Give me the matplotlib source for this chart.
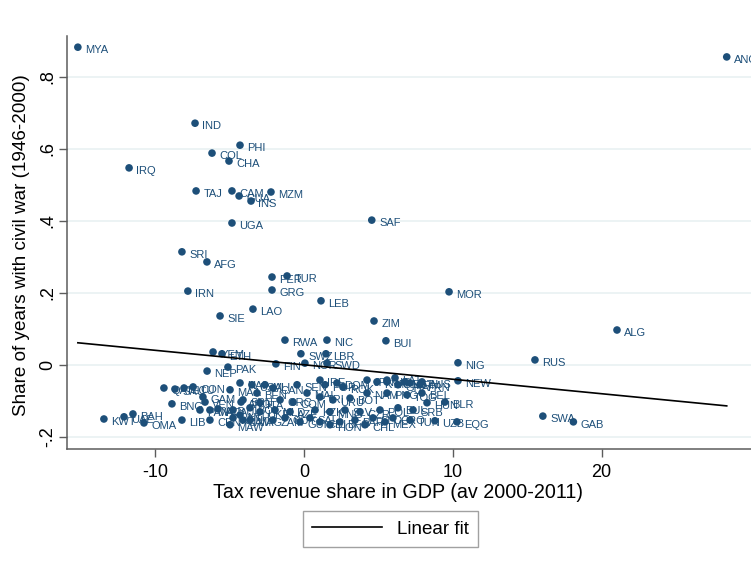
import numpy as np
import matplotlib
matplotlib.use("Agg")
import matplotlib.pyplot as plt
from matplotlib.lines import Line2D

plt.rcParams['font.family'] = ['Liberation Sans', 'DejaVu Sans']

# Country codes, tax revenue share (x) and share of years with civil war (y)
codes = [
    "MYA", "ANG", "IND", "PHI", "COL", "CHA", "IRQ", "TAJ", "CAM", "GUA",
    "MZM", "INS", "UGA", "SAF", "SRI", "AFG", "PER", "TUR", "GRG", "IRN",
    "LEB", "MOR", "LAO", "SIE", "ZIM", "ALG", "RWA", "NIC", "BUI", "YEM",
    "ETH", "SWZ", "LBR", "FIN", "NOR", "SWD", "NIG", "RUS", "PAK", "NEP",
    "NEW", "SWA", "GAB",
    "KWT", "UAE", "BAH", "OMA", "LIB", "BNG",
    "QAT", "SAU", "ECU", "CON", "GAM", "VEN", "MAA", "HAI", "USA", "BEN",
    "ARG", "PAN", "MAC", "ALB", "AUL", "NTH", "CEN", "KEN", "JAM", "MLI",
    "CAN", "SEN", "IRE", "POR", "DOM", "ROK", "JPN", "KYR", "MON", "GHA",
    "ARM", "AUS", "SPN", "ITA", "GRC", "COM", "MAL", "TRI", "URU", "BOT",
    "NAM", "PNG", "TOG", "MAG", "ZAM", "GUI", "CDI", "BFO", "SLO", "CRO",
    "LIT", "LAT", "EST", "FRN", "BEL", "HUN", "BLR", "TUN", "UZB", "EQG",
    "SRB", "BUL", "POL", "CZR", "SLV", "MNG", "KZK", "AZE", "MLD", "UKR",
    "BOL", "GUY", "SAL", "HON", "PAR", "CHL", "MEX", "MAW",
]
tax_share = [
    -15.18, 28.40, -7.31, -4.29, -6.17, -5.03, -11.74, -7.24, -4.83, -4.35,
    -2.21, -3.55, -4.83, 4.56, -8.19, -6.51, -2.14, -1.13, -2.14, -7.79,
    1.15, 9.75, -3.42, -5.63, 4.71, 21.03, -1.27, 1.55, 5.51, -6.10,
    -5.50, -0.20, 1.48, -1.88, 0.07, 1.55, 10.35, 15.52, -5.10, -6.50,
    10.35, 16.05, 18.10,
    -13.43, -12.08, -11.48, -10.74, -8.19, -8.86,
    -9.40, -8.66, -8.05, -7.44, -6.78, -6.64, -4.96, -4.29, -3.49, -3.15,
    -4.22, -6.98, -6.31, -5.77, -4.76, -4.29, -6.31, -4.76, -4.09, -2.61,
    -2.08, -0.46, 1.08, 1.42, 2.22, 2.62, 4.24, 4.91, 5.58, 6.32,
    7.13, 7.93, -4.09, -2.95, -1.60, -0.73, 0.21, 1.08, 1.95, 3.10,
    4.24, 5.58, 6.92, -3.62, -2.08, -0.26, 1.08, 2.42, 4.64, 5.98,
    5.58, 6.12, 6.79, 7.79, 7.93, 8.27, 9.47, 7.13, 8.80, 10.28,
    7.33, 6.32, 5.11, 3.77, 2.76, 1.75, 0.75, -0.93, -1.94, -2.95,
    -3.62, -1.27, 0.41, 1.75, 3.43, 4.10, 5.44, -4.96,
]
war_share = [
    0.882, 0.855, 0.671, 0.610, 0.588, 0.566, 0.547, 0.483, 0.483, 0.469,
    0.480, 0.455, 0.394, 0.402, 0.314, 0.286, 0.244, 0.247, 0.208, 0.205,
    0.178, 0.203, 0.155, 0.136, 0.122, 0.097, 0.069, 0.069, 0.067, 0.036,
    0.031, 0.031, 0.031, 0.003, 0.005, 0.005, 0.006, 0.014, -0.006, -0.017,
    -0.044, -0.142, -0.158,
    -0.150, -0.144, -0.136, -0.161, -0.153, -0.108,
    -0.064, -0.067, -0.064, -0.061, -0.089, -0.103, -0.069, -0.050, -0.055, -0.078,
    -0.103, -0.125, -0.125, -0.122, -0.125, -0.139, -0.153, -0.147, -0.153, -0.055,
    -0.064, -0.055, -0.042, -0.055, -0.050, -0.061, -0.042, -0.047, -0.047, -0.055,
    -0.050, -0.047, -0.097, -0.105, -0.097, -0.103, -0.078, -0.089, -0.097, -0.092,
    -0.078, -0.078, -0.083, -0.153, -0.153, -0.158, -0.158, -0.158, -0.147, -0.147,
    -0.042, -0.036, -0.047, -0.055, -0.078, -0.105, -0.103, -0.153, -0.155, -0.158,
    -0.125, -0.119, -0.125, -0.130, -0.125, -0.130, -0.125, -0.130, -0.125, -0.130,
    -0.119, -0.147, -0.147, -0.166, -0.153, -0.166, -0.158, -0.166,
]

# Linear fit coefficients (share of war years on tax share)
fit_intercept = 0.0005
fit_slope = -0.00402

x_ticks = [-10, 0, 10, 20]
y_ticks = [-0.2, 0, 0.2, 0.4, 0.6, 0.8]
y_tick_labels = ["-.2", "0", ".2", ".4", ".6", ".8"]

navy = "#1d4f79"

fig = plt.figure(figsize=(7.51, 5.69), dpi=100)
ax = fig.add_axes([0.0892, 0.2109, 0.9108, 0.7258])

x = np.array(tax_share)
y = np.array(war_share)

# horizontal grid lines
for t in y_ticks:
    ax.axhline(t, color="#eaf2f3", lw=1.3, zorder=0)

ax.scatter(x, y, s=30, color=navy, edgecolors="none", zorder=3)
for c, xi, yi in zip(codes, x, y):
    ax.annotate(c, (xi, yi), xytext=(5.2, -2.2), textcoords="offset points",
                ha="left", va="center", fontsize=8, color=navy, zorder=4,
                annotation_clip=False)

# fitted line across the observed range of tax shares
xf = np.array([x.min(), x.max()])
ax.plot(xf, fit_intercept + fit_slope * xf, color="black", lw=1.2, zorder=5)

ax.set_xlim(-15.91, 30.03)
ax.set_ylim(-0.2333, 0.913)
ax.set_xticks(x_ticks)
ax.set_xticklabels([str(t) for t in x_ticks])
ax.set_yticks(y_ticks)
ax.set_yticklabels(y_tick_labels, rotation=90, va="center")

for side in ("top", "right"):
    ax.spines[side].set_visible(False)
for side in ("left", "bottom"):
    ax.spines[side].set_color("#5c5c5c")
    ax.spines[side].set_linewidth(1.1)
ax.tick_params(axis="both", colors="#5c5c5c", length=5.5, width=1.0,
               labelsize=13, labelcolor="black")
ax.tick_params(axis="x", pad=5)
ax.tick_params(axis="y", pad=2.5)

ax.set_xlabel("Tax revenue share in GDP (av 2000-2011)", fontsize=14.2)
ax.xaxis.set_label_coords(0.484, -0.083)
ax.set_ylabel("Share of years with civil war (1946-2000)", fontsize=13.6)
ax.yaxis.set_label_coords(-0.054, 0.494)

handle = Line2D([], [], color="black", lw=1.2)
fig.legend([handle], ["Linear fit"], loc="center", bbox_to_anchor=(0.52, 0.0703),
           fontsize=13.5, frameon=True, fancybox=False, edgecolor="#8a8a8a",
           handlelength=3.7, handletextpad=0.8, borderpad=0.5, borderaxespad=0)

fig.savefig("out.png", dpi=100)
